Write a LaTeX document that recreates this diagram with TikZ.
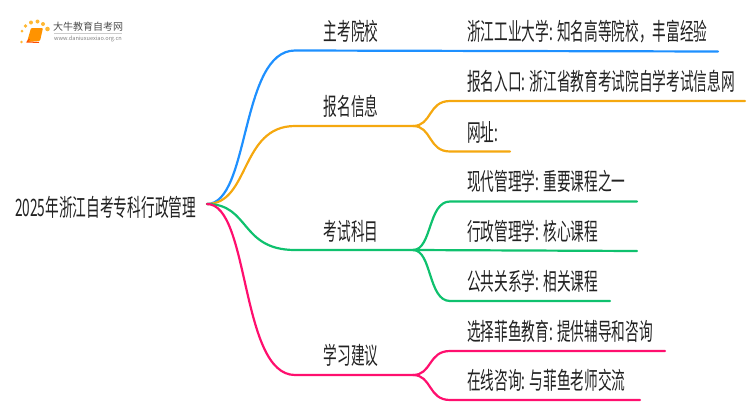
\documentclass[tikz,border=0pt]{standalone}
\usepackage{fontspec}
\setmainfont{Noto Sans CJK SC}[FakeStretch=0.57]
\newfontfamily\logofont{Noto Sans CJK SC}
\definecolor{cblue}{HTML}{1E90FF}
\definecolor{corange}{HTML}{F5A80F}
\definecolor{cgreen}{HTML}{0FC16E}
\definecolor{cpink}{HTML}{FF0F6E}
\definecolor{ctext}{HTML}{222222}
\tikzset{
  branch/.style={line width=2.2pt,line cap=round},
  roottext/.style={font=\fontsize{24}{26}\selectfont,text=ctext,anchor=west,inner sep=0pt},
  midtext/.style={font=\fontsize{24}{26}\selectfont,text=ctext,anchor=center,inner sep=0pt},
  leaftext/.style={font=\fontsize{24}{26}\selectfont,text=ctext,anchor=west,inner sep=0pt},
}
\begin{document}
\begin{tikzpicture}[x=1pt,y=-1pt]
\useasboundingbox (0,0) rectangle (750,410);
% coordinates
\coordinate (root) at (207,204);
\coordinate (j1) at (295,50.5);
\coordinate (j2) at (295,126);
\coordinate (j3) at (295,250);
\coordinate (j4) at (295,375);
\coordinate (e1) at (718,51.5);
\coordinate (f2) at (413,126);
\coordinate (f3) at (413,250);
\coordinate (f4) at (413,375);
\coordinate (a2) at (450,101);
\coordinate (b2) at (450,151.5);
\coordinate (a3) at (450,201.5);
\coordinate (b3) at (450,301);
\coordinate (a4) at (450,351);
\coordinate (b4) at (450,400);
\coordinate (ea2) at (745,101);
\coordinate (eb2) at (510,151.5);
\coordinate (ea3) at (637,201.5);
\coordinate (ec3) at (637,251);
\coordinate (eb3) at (610,301);
\coordinate (ea4) at (665,351);
\coordinate (eb4) at (640,400);
% level 1
\draw[branch,cblue] (root) .. controls (250,204) and (240,50.5) .. (j1) -- (e1);
\draw[branch,corange] (root) .. controls (250,204) and (240,126) .. (j2) -- (f2);
\draw[branch,cgreen] (root) .. controls (250,204) and (240,250) .. (j3) -- (f3);
\draw[branch,cpink] (root) .. controls (250,204) and (240,375) .. (j4) -- (f4);
% level 2
\draw[branch,corange] (f2) .. controls (432,126) and (428,101) .. (a2) -- (ea2);
\draw[branch,corange] (f2) .. controls (432,126) and (428,151.5) .. (b2) -- (eb2);
\draw[branch,cgreen] (f3) .. controls (432,250) and (428,201.5) .. (a3) -- (ea3);
\draw[branch,cgreen] (f3) -- (ec3);
\draw[branch,cgreen] (f3) .. controls (432,250) and (428,301) .. (b3) -- (eb3);
\draw[branch,cpink] (f4) .. controls (432,375) and (428,351) .. (a4) -- (ea4);
\draw[branch,cpink] (f4) .. controls (432,375) and (428,400) .. (b4) -- (eb4);
% texts
\node[roottext] (t0) at (15,207) {2025年浙江自考专科行政管理};
\node[midtext] (t1) at (351,31) {主考院校};
\node[midtext] (t2) at (351,106) {报名信息};
\node[midtext] (t3) at (351,231) {考试科目};
\node[midtext] (t4) at (351,355) {学习建议};
\node[leaftext] (l1) at (467,32) {浙江工业大学: 知名高等院校，丰富经验};
\node[leaftext] (l2) at (467,81) {报名入口: 浙江省教育考试院自学考试信息网};
\node[leaftext] (l3) at (467,132) {网址:};
\node[leaftext] (l4) at (467,181) {现代管理学: 重要课程之一};
\node[leaftext] (l5) at (467,231) {行政管理学: 核心课程};
\node[leaftext] (l6) at (467,281) {公共关系学: 相关课程};
\node[leaftext] (l7) at (467,331) {选择菲鱼教育: 提供辅导和咨询};
\node[leaftext] (l8) at (467,380) {在线咨询: 与菲鱼老师交流};
% logo
\foreach \p/\r in {{21.5,42}/1.3,{22,31}/1.5,{25.5,26}/1.8,{31,22.5}/2,{37.5,21.5}/2,{43,24}/2,{47.5,29}/2.3}{
  \fill[orange!70!yellow,opacity=.8] (\p) circle (\r);
}
\fill[orange!85!yellow,rounded corners=1pt] (31,28) -- (43,28) -- (40,41) -- (27,42) -- cycle;
\draw[orange!60!red,line width=1pt] (29.5,39) -- (27,42) -- (39,42.5);
\node[anchor=west,inner sep=0pt,text=ctext!80,font=\logofont\fontsize{10}{11}\selectfont] (logo1) at (53,27) {大牛教育自考网};
\draw[gray!40,line width=.5pt] (54,33.5) -- (122,33.5);
\node[anchor=west,inner sep=0pt,text=gray,font=\logofont\fontsize{5.6}{7}\selectfont] (logo2) at (54,39) {www.daniuxuexiao.org.cn};
\end{tikzpicture}
\end{document}
